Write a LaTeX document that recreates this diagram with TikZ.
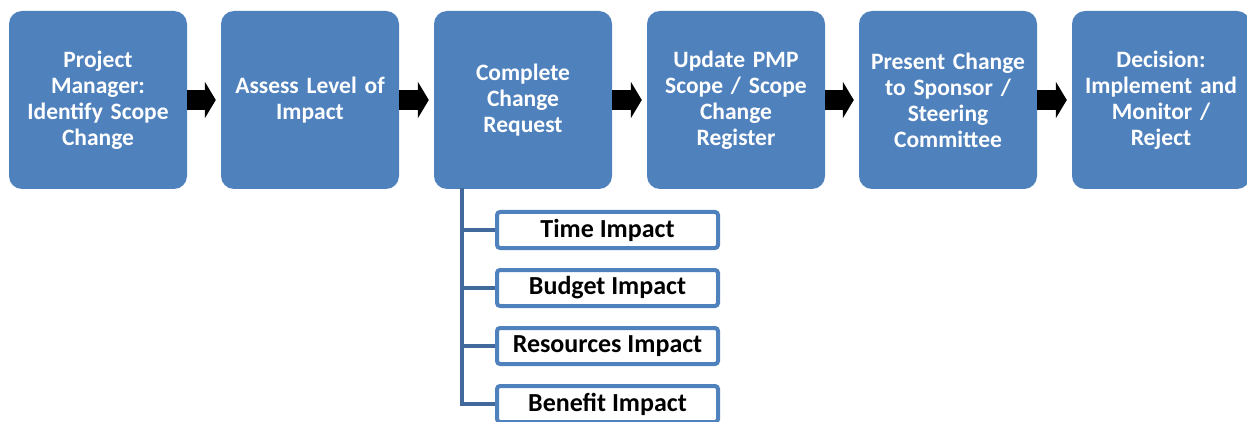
\documentclass[tikz,border=0pt]{standalone}
\usepackage{fontspec}
\setmainfont{Carlito}
\usetikzlibrary{arrows.meta}
\definecolor{boxblue}{HTML}{4F81BD}
\definecolor{lineblue}{HTML}{41699C}
\begin{document}
\begin{tikzpicture}[x=1pt, y=-1pt]
			\tikzset{step box/.style={rectangle, rounded corners=13pt, fill=boxblue, text=white, minimum width=178pt, minimum height=178pt, text width=174pt, align=center, inner sep=0pt, font=\fontsize{23.5}{26}\selectfont\bfseries}};
			\tikzset{impact/.style={rectangle, rounded corners=3pt, draw=boxblue, line width=4pt, fill=white, minimum width=221pt, minimum height=36pt, inner sep=0pt, font=\fontsize{26}{28}\selectfont\bfseries}};
			\tikzset{arr/.style={line width=20pt, -{Triangle[length=11pt, width=36pt]}, shorten >=5pt}};
			\tikzset{tree/.style={draw=lineblue, line width=4.5pt}};
			\useasboundingbox (0,0) rectangle (1247,422);

			\node[step box] (1) at (  98,100) {Project\\ Manager:\\ Identify Scope\\ Change};
			\node[step box] (2) at ( 310,100) {Assess Level of\\ Impact};
			\node[step box] (3) at ( 523,100) {Complete\\ Change\\ Request};
			\node[step box] (4) at ( 736,100) {Update PMP\\ Scope / Scope\\ Change\\ Register};
			\node[step box] (5) at ( 948,100) {Present Change\\ to Sponsor /\\ Steering\\ Committee};
			\node[step box] (6) at (1161,100) {Decision:\\ Implement and\\ Monitor /\\ Reject};

			\node[impact] (a1) at (607.5,230) {Time Impact};
			\node[impact] (a2) at (607.5,288) {Budget Impact};
			\node[impact] (a3) at (607.5,346) {Resources Impact};
			\node[impact] (a4) at (607.5,404) {Benefit Impact};

			\draw[arr] (1) -- (2);
			\draw[arr] (2) -- (3);
			\draw[arr] (3) -- (4);
			\draw[arr] (4) -- (5);
			\draw[arr] (5) -- (6);

			\coordinate (t) at (462,188);
			\draw[tree] (t) |- (a4.west);
			\draw[tree] (t |- a1) -- (a1.west);
			\draw[tree] (t |- a2) -- (a2.west);
			\draw[tree] (t |- a3) -- (a3.west);
		\end{tikzpicture}
\end{document}
